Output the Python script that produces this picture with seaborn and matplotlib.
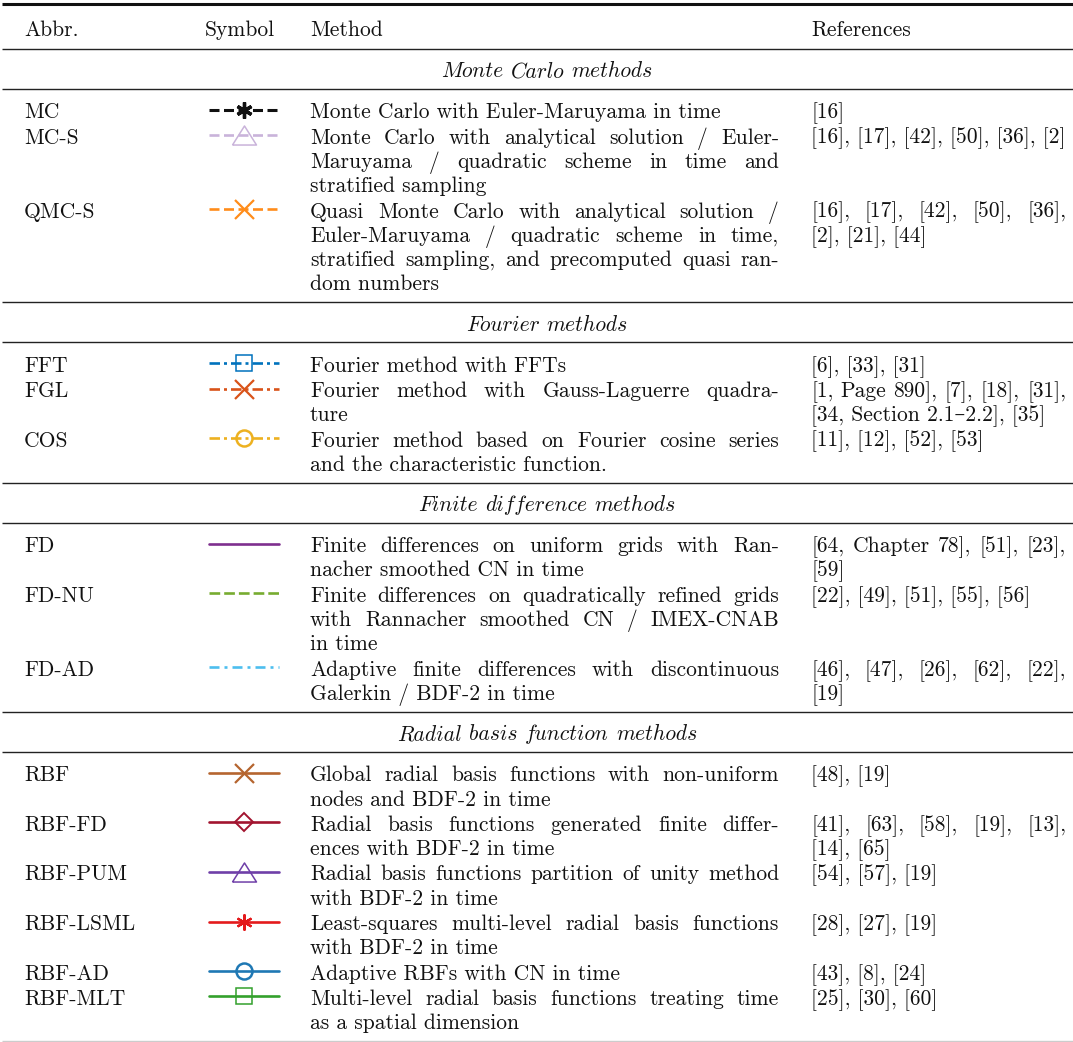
import matplotlib
matplotlib.use("Agg")
import matplotlib.pyplot as plt
import pandas as pd
import seaborn as sns

# ---- table content -------------------------------------------------------
header = ["Abbr.", "Symbol", "Method", "References"]
sections = [
    "Monte Carlo methods",
    "Fourier methods",
    "Finite difference methods",
    "Radial basis function methods",
]
abbr = ["MC", "MC-S", "QMC-S", "FFT", "FGL", "COS", "FD", "FD-NU", "FD-AD",
        "RBF", "RBF-FD", "RBF-PUM", "RBF-LSML", "RBF-AD", "RBF-MLT"]
section_of = [0, 0, 0, 1, 1, 1, 2, 2, 2, 3, 3, 3, 3, 3, 3]
colors = ["#111111", "#c9b3da", "#ff8c1a", "#0072bd", "#d95319", "#edb120",
          "#7e2f8e", "#77ac30", "#4dbeee", "#b5652f", "#a2142f", "#6f3fa8",
          "#e41a1c", "#1f78b4", "#33a02c"]
linestyles = ["dash", "dash", "dash", "dashdot", "dashdot", "dashdot",
              "solid", "dash2", "dashdot2", "solid", "solid", "solid",
              "solid", "solid", "solid"]
markers = ["star", "tri", "x", "s", "x", "o", None, None, None,
           "x", "D", "tri", "star", "o", "s"]
methods = [
    ["Monte Carlo with Euler-Maruyama in time"],
    ["Monte Carlo with analytical solution / Euler-",
     "Maruyama / quadratic scheme in time and",
     "stratified sampling"],
    ["Quasi Monte Carlo with analytical solution /",
     "Euler-Maruyama / quadratic scheme in time,",
     "stratified sampling, and precomputed quasi ran-",
     "dom numbers"],
    ["Fourier method with FFTs"],
    ["Fourier method with Gauss-Laguerre quadra-",
     "ture"],
    ["Fourier method based on Fourier cosine series",
     "and the characteristic function."],
    ["Finite differences on uniform grids with Ran-",
     "nacher smoothed CN in time"],
    ["Finite differences on quadratically refined grids",
     "with Rannacher smoothed CN / IMEX-CNAB",
     "in time"],
    ["Adaptive finite differences with discontinuous",
     "Galerkin / BDF-2 in time"],
    ["Global radial basis functions with non-uniform",
     "nodes and BDF-2 in time"],
    ["Radial basis functions generated finite differ-",
     "ences with BDF-2 in time"],
    ["Radial basis functions partition of unity method",
     "with BDF-2 in time"],
    ["Least-squares multi-level radial basis functions",
     "with BDF-2 in time"],
    ["Adaptive RBFs with CN in time"],
    ["Multi-level radial basis functions treating time",
     "as a spatial dimension"],
]
references = [
    ["[16]"],
    ["[16], [17], [42], [50], [36], [2]"],
    ["[16], [17], [42], [50], [36],", "[2], [21], [44]"],
    ["[6], [33], [31]"],
    ["[1, Page 890], [7], [18], [31],", "[34, Section 2.1\u20132.2], [35]"],
    ["[11], [12], [52], [53]"],
    ["[64, Chapter 78], [51], [23],", "[59]"],
    ["[22], [49], [51], [55], [56]"],
    ["[46], [47], [26], [62], [22],", "[19]"],
    ["[48], [19]"],
    ["[41], [63], [58], [19], [13],", "[14], [65]"],
    ["[54], [57], [19]"],
    ["[28], [27], [19]"],
    ["[43], [8], [24]"],
    ["[25], [30], [60]"],
]

# ---- styling -------------------------------------------------------------
sns.set_theme(style="white")
plt.rcParams["font.family"] = ["cmr10", "DejaVu Serif"]
plt.rcParams["mathtext.fontset"] = "cm"
plt.rcParams["lines.scale_dashes"] = False
plt.rcParams["axes.formatter.use_mathtext"] = True

W, H = 1073, 1042
FS = 15.5
TXT = dict(fontsize=FS, color="#111111", va="baseline", ha="left")
ITXT = dict(TXT, family=["cmmi10", "DejaVu Serif"])
PX = 72 / 100  # pixels -> points

DASHES = {
    "solid": "-",
    "dash": (0, (10 * PX, 4.5 * PX)),
    "dash2": (0, (10.7 * PX, 4 * PX)),
    "dashdot": (0, (10.5 * PX, 4 * PX, 3 * PX, 4 * PX)),
    "dashdot2": (0, (10 * PX, 5 * PX, 3 * PX, 5 * PX)),
}
TRI = [(-1.26, -1), (1.26, -1), (0, 1), (-1.26, -1)]
MARKER_STYLE = {
    "star": dict(marker=(6, 2, 0), markersize=16 * PX, markeredgewidth=1.6),
    "tri": dict(marker=TRI, markersize=24 * PX, markeredgewidth=1.1,
                markerfacecolor="none"),
    "x": dict(marker="x", markersize=19 * PX, markeredgewidth=1.6),
    "s": dict(marker="s", markersize=16 * PX, markeredgewidth=1.1,
              markerfacecolor="none"),
    "o": dict(marker="o", markersize=16 * PX, markeredgewidth=1.8,
              markerfacecolor="none"),
    "D": dict(marker="D", markersize=13 * PX, markeredgewidth=1.4,
              markerfacecolor="none"),
}

COL_ABBR, COL_SYM, COL_METH, COL_REF = 24, 205, 310, 811
METH_RIGHT, REF_RIGHT = 779, 1066
SYM_X0, SYM_X1 = 209, 279
PITCH, ROW_GAP = 24.3, 25.3
BASE_OFF = 7.0
SECTION_CX = 547
ITAL_SPACE = 7.5

fig = plt.figure(figsize=(W / 100, H / 100), dpi=100)
ax = fig.add_axes([0, 0, 1, 1])
ax.set_xlim(0, W)
ax.set_ylim(H, 0)
ax.axis("off")
renderer = fig.canvas.get_renderer()


def rule(y, lw=1.0, color="#222222"):
    ax.plot([2, W], [y, y], color=color, lw=lw, solid_capstyle="butt")


def place_words(words, x0, yb, gap, style):
    arts = [ax.text(0, yb, w, **style) for w in words]
    widths = [a.get_window_extent(renderer).width for a in arts]
    if gap is None:
        return arts, widths
    x = x0
    for a, w in zip(arts, widths):
        a.set_x(x)
        x += w + gap
    return arts, widths


def justified(lines, x0, x1, y_center):
    for i, line in enumerate(lines):
        yb = y_center + i * PITCH + BASE_OFF
        words = line.split(" ")
        if i == len(lines) - 1 or len(words) == 1:
            ax.text(x0, yb, line, **TXT)
            continue
        arts, widths = place_words(words, x0, yb, None, TXT)
        gap = (x1 - x0 - sum(widths)) / (len(words) - 1)
        x = x0
        for a, w in zip(arts, widths):
            a.set_x(x)
            x += w + gap


def section_title(name, yb):
    words = name.split(" ")
    arts, widths = place_words(words, 0, yb, None, ITXT)
    total = sum(widths) + ITAL_SPACE * (len(words) - 1)
    x = SECTION_CX - total / 2
    for a, w in zip(arts, widths):
        a.set_x(x)
        x += w + ITAL_SPACE


def symbol(i, y):
    df = pd.DataFrame({"x": [SYM_X0, (SYM_X0 + SYM_X1) / 2, SYM_X1],
                       "y": [y, y, y]})
    kws = dict(color=colors[i], linewidth=1.9, linestyle=DASHES[linestyles[i]])
    if markers[i] is not None:
        kws.update(MARKER_STYLE[markers[i]])
        kws["markeredgecolor"] = colors[i]
        kws["markevery"] = [1]
    if i == 0:
        kws["linewidth"] = 2.2
        kws["markeredgewidth"] = 2.4
    sns.lineplot(data=df, x="x", y="y", ax=ax, sort=False, estimator=None,
                 legend=False, **kws)


# header
rule(4, lw=2.2, color="#111111")
for txt, x in zip(header, [COL_ABBR, COL_SYM, COL_METH, COL_REF]):
    ax.text(x, 29 + BASE_OFF, txt, **TXT)
y = 49
rule(y)

for s, name in enumerate(sections):
    yc = y + 21.3
    section_title(name, yc + BASE_OFF)
    y = yc + 18.5
    rule(y)
    y += 22.5
    rows = [i for i in range(len(abbr)) if section_of[i] == s]
    for k, i in enumerate(rows):
        ax.text(COL_ABBR, y + BASE_OFF, abbr[i], **TXT)
        symbol(i, y - 1.5)
        justified(methods[i], COL_METH, METH_RIGHT, y)
        justified(references[i], COL_REF, REF_RIGHT, y)
        n = max(len(methods[i]), len(references[i]))
        y += (n - 1) * PITCH
        if k < len(rows) - 1:
            y += ROW_GAP
    y += 19
    rule(y, color="#222222" if s < len(sections) - 1 else "#cccccc")

ax.set_xlim(0, W)
ax.set_ylim(H, 0)
fig.savefig("out.png", dpi=100)
